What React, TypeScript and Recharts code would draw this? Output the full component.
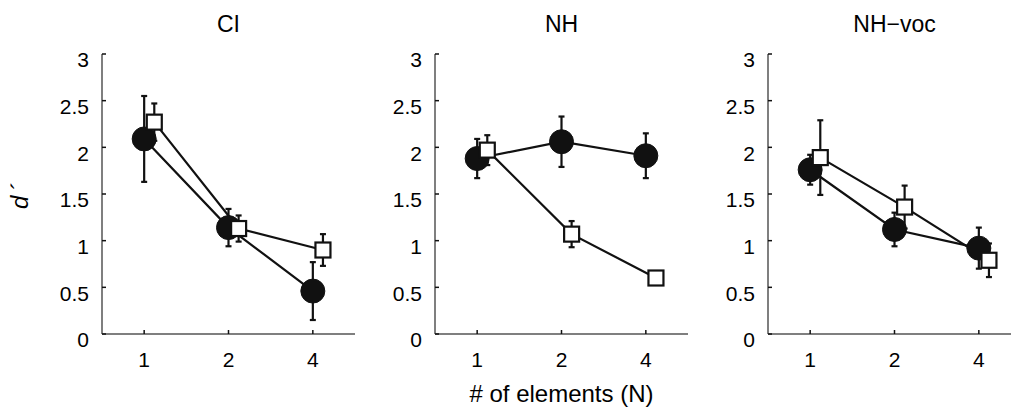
import { LineChart, Line, XAxis, YAxis, ErrorBar, Label } from 'recharts'

// x categories (equally spaced in the plot)
const xLabels = ['1', '2', '4']
const yTicks = [0, 0.5, 1, 1.5, 2, 2.5, 3]
const titles = ['CI', 'NH', 'NH\u2212voc']

// filled circles
const ciCircle = [2.09, 1.14, 0.46]
const ciCircleErr = [0.46, 0.2, 0.31]
const nhCircle = [1.88, 2.06, 1.91]
const nhCircleErr = [0.21, 0.27, 0.24]
const vocCircle = [1.76, 1.12, 0.92]
const vocCircleErr = [0.16, 0.18, 0.22]

// open squares
const ciSquare = [2.27, 1.13, 0.9]
const ciSquareErr = [0.2, 0.14, 0.17]
const nhSquare = [1.97, 1.07, 0.6]
const nhSquareErr = [0.16, 0.14, 0.03]
const vocSquare = [1.89, 1.36, 0.79]
const vocSquareErr = [0.4, 0.23, 0.18]

// squares are plotted slightly to the right of each category
const squareShift = 0.12

const circles = [ciCircle, nhCircle, vocCircle]
const circleErrs = [ciCircleErr, nhCircleErr, vocCircleErr]
const squares = [ciSquare, nhSquare, vocSquare]
const squareErrs = [ciSquareErr, nhSquareErr, vocSquareErr]

const FONT = '"Liberation Sans", Arial, Helvetica, sans-serif'
const INK = '#111'
const AXIS = '#555'

const toRows = (vals: number[], errs: number[], shift: number) =>
  vals.map((v, i) => ({ x: i + 1 + shift, y: v, err: errs[i] }))

const SquareDot = (props: any) => {
  const { cx, cy, index } = props
  const s = 15
  return (
    <rect key={`sq-${index}`} x={cx - s / 2} y={cy - s / 2} width={s} height={s}
      fill="#fff" stroke={INK} strokeWidth={2.2} />
  )
}

const YLabel = ({ viewBox }: any) => {
  const cx = viewBox.x + 19
  const cy = viewBox.y + viewBox.height / 2 + 2
  return (
    <text x={cx} y={cy} transform={`rotate(-90 ${cx} ${cy})`} textAnchor="middle"
      dominantBaseline="central" fontSize={24} fontFamily={FONT} fontStyle="italic" fill="#000">
      d{'\u2009\u00B4'}
    </text>
  )
}

function Panel({ idx }: { idx: number }) {
  const circleRows = toRows(circles[idx], circleErrs[idx], 0)
  const squareRows = toRows(squares[idx], squareErrs[idx], squareShift)
  return (
    <div style={{ position: 'absolute', left: idx * 333, top: 0, width: 355, height: 408 }}>
      <div style={{
        position: 'absolute', left: 102, top: 13, width: 253, textAlign: 'center',
        fontFamily: FONT, fontSize: 23, lineHeight: '23px', color: '#000',
      }}>
        {titles[idx]}
      </div>
      <LineChart width={355} height={408} margin={{ top: 54, right: 0, bottom: 0, left: 0 }}
        style={{ fontFamily: FONT, fontSize: 21 }}>
        <XAxis dataKey="x" type="number" domain={[0.5, 3.5]} ticks={[1, 2, 3]}
          tickFormatter={(v: number) => xLabels[v - 1]}
          allowDuplicatedCategory={false} height={74} tickSize={-4} tickMargin={22}
          tick={{ fontSize: 21, fontFamily: FONT, fill: '#000' }}
          axisLine={{ stroke: AXIS, strokeWidth: 1.5 }}
          tickLine={{ stroke: INK, strokeWidth: 1.5 }}>
          {idx === 1 && (
            <Label value="# of elements (N)" position="insideBottom" offset={6}
              style={{ fontSize: 24, fontFamily: FONT, fill: '#000' }} />
          )}
        </XAxis>
        <YAxis type="number" domain={[0, 3]} ticks={yTicks} width={102}
          tickSize={-4} tickMargin={17}
          tick={{ fontSize: 21, fontFamily: FONT, fill: '#000', dy: 6 }}
          axisLine={{ stroke: AXIS, strokeWidth: 1.5 }}
          tickLine={{ stroke: INK, strokeWidth: 1.5 }}>
          {idx === 0 && <Label content={<YLabel />} />}
        </YAxis>
        <Line data={circleRows} dataKey="y" stroke={INK} strokeWidth={2.2}
          dot={{ r: 12, fill: INK, stroke: INK, strokeWidth: 1 }} activeDot={false}
          isAnimationActive={false}>
          <ErrorBar dataKey="err" direction="y" width={3} stroke={INK} strokeWidth={2.2}
            isAnimationActive={false} />
        </Line>
        <Line data={squareRows} dataKey="y" stroke={INK} strokeWidth={2.2}
          dot={<SquareDot />} activeDot={false} isAnimationActive={false}>
          <ErrorBar dataKey="err" direction="y" width={3} stroke={INK} strokeWidth={2.2}
            isAnimationActive={false} />
        </Line>
      </LineChart>
    </div>
  )
}

export default function App() {
  return (
    <div style={{
      position: 'absolute', left: 0, top: 0, width: 1011, height: 408,
      overflow: 'hidden', background: '#fff',
    }}>
      {[0, 1, 2].map(i => <Panel key={i} idx={i} />)}
    </div>
  )
}
